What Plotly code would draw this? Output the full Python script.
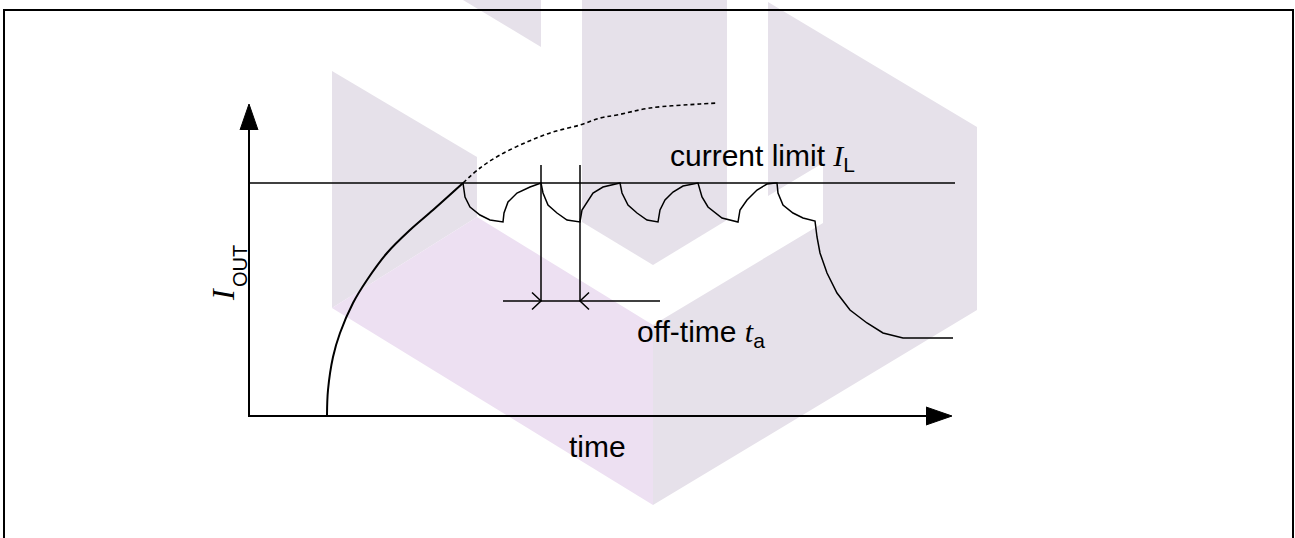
import plotly.graph_objects as go

# diagram units: t = time, I = output current (1 unit = 1 px, origin at the axes corner)
I_LIMIT = 233
T_LIMIT_END = 706
T_AXIS_END = 703
I_AXIS_END = 312

# ideal (unlimited) current rise
IDEAL_T = [78, 79, 84, 91, 104, 118, 138, 161, 184, 214, 231, 251, 278, 304, 331, 351, 368, 401, 451, 469]
IDEAL_I = [1, 26, 59, 83, 113, 136, 163, 186, 206, 233, 248, 261, 274, 284, 291, 298, 301, 308, 312, 313]
CROSS_IDX = 9

# limited output current
OUT_T = [214, 216, 221, 231, 241, 254, 255, 259, 268, 281, 292,
         294, 299, 308, 318, 331, 333, 338, 344, 354, 369,
         371, 373, 379, 388, 398, 409, 411, 416, 424, 434, 449,
         453, 459, 473, 481, 489, 491, 498, 508, 518, 526,
         528, 529, 534, 544, 554, 566, 568, 571, 578, 588, 601, 618, 634, 654, 704]
OUT_I = [233, 219, 209, 201, 196, 194, 203, 214, 223, 229, 233,
         223, 211, 203, 196, 194, 206, 214, 223, 229, 233,
         233, 223, 211, 203, 196, 194, 206, 216, 224, 230, 233,
         219, 209, 198, 196, 194, 206, 216, 226, 232, 233,
         233, 223, 211, 203, 198, 195, 179, 163, 143, 123, 106, 93, 83, 78, 78]

# off-time dimension
OFF_START, OFF_END = 292, 331
MARK_TOP, MARK_LEVEL = 251, 115
DIM_T = [254, 411]

# background watermark polygons
WM_GRAY = [
    ([83, 228, 228, 83], [345, 259, 199, 108]),
    ([214, 292, 292], [416, 416, 369]),
    ([333, 478, 478, 404, 333], [416, 416, 196, 151, 194]),
    ([519, 728, 728, 404, 404, 574, 574, 519], [414, 289, 106, -89, 91, 193, 253, 220]),
]
WM_PINK = [
    ([83, 228, 404, 404], [108, 199, 91, -89]),
]
GRAY = '#e6e1ea'
PINK = '#ede0f2'

HEAD_LEN, HEAD_HALF = 26, 9
TICK_LEN, TICK_HALF = 9, 8.5

fig = go.Figure()

for polys, col in ((WM_GRAY, GRAY), (WM_PINK, PINK)):
    for xs, ys in polys:
        fig.add_trace(go.Scatter(x=xs, y=ys, fill='toself', fillcolor=col,
                                 mode='none', hoverinfo='skip'))

line = dict(color='black', width=1.5)

# axes
fig.add_trace(go.Scatter(x=[0, 0, T_AXIS_END - HEAD_LEN], y=[I_AXIS_END - HEAD_LEN, 0, 0],
                         mode='lines', line=dict(color='black', width=2)))
fig.add_trace(go.Scatter(x=[-HEAD_HALF, 0, HEAD_HALF], y=[I_AXIS_END - HEAD_LEN, I_AXIS_END, I_AXIS_END - HEAD_LEN],
                         fill='toself', fillcolor='black', mode='lines', line=dict(color='black', width=1)))
fig.add_trace(go.Scatter(x=[T_AXIS_END - HEAD_LEN, T_AXIS_END, T_AXIS_END - HEAD_LEN], y=[-HEAD_HALF, 0, HEAD_HALF],
                         fill='toself', fillcolor='black', mode='lines', line=dict(color='black', width=1)))

# current limit
fig.add_trace(go.Scatter(x=[0, T_LIMIT_END], y=[I_LIMIT, I_LIMIT], mode='lines', line=line))

# ideal curve
fig.add_trace(go.Scatter(x=IDEAL_T[:CROSS_IDX + 1], y=IDEAL_I[:CROSS_IDX + 1], mode='lines',
                         line=dict(color='black', width=2, shape='spline')))
fig.add_trace(go.Scatter(x=IDEAL_T[CROSS_IDX:], y=IDEAL_I[CROSS_IDX:], mode='lines',
                         line=dict(color='black', width=1.6, dash='4px,3px', shape='spline')))

# limited waveform
fig.add_trace(go.Scatter(x=OUT_T, y=OUT_I, mode='lines', line=line))

# off-time markers
for t in (OFF_START, OFF_END):
    fig.add_trace(go.Scatter(x=[t, t], y=[MARK_TOP, MARK_LEVEL], mode='lines', line=line))
fig.add_trace(go.Scatter(x=DIM_T, y=[MARK_LEVEL, MARK_LEVEL], mode='lines', line=line))
for t, d in ((OFF_START, -1), (OFF_END, 1)):
    fig.add_trace(go.Scatter(x=[t + d * TICK_LEN, t, t + d * TICK_LEN],
                             y=[MARK_LEVEL + TICK_HALF, MARK_LEVEL, MARK_LEVEL - TICK_HALF],
                             mode='lines', line=line))

SANS = 'Arial, Liberation Sans, sans-serif'
SERIF = 'Liberation Serif'
font = dict(family=SANS, size=30, color='black')

fig.add_annotation(x=419, y=259, xanchor='left', yanchor='middle', showarrow=False, font=font,
                   text=f'current limit <span style="font-family:{SERIF}"><i>I</i></span><sub>L</sub>')
fig.add_annotation(x=386, y=83, xanchor='left', yanchor='middle', showarrow=False, font=font,
                   text=f'off-time <span style="font-family:{SERIF}"><i>t</i></span><sub>a</sub>')
fig.add_annotation(x=348, y=-30, xanchor='center', yanchor='middle', showarrow=False, font=font,
                   text='time')
# y-axis label I_OUT, rotated
fig.add_annotation(x=-26, y=121, xanchor='center', yanchor='middle', showarrow=False,
                   font=dict(family=SERIF, size=32, color='black'), textangle=-90, text='<i>I</i>')
fig.add_annotation(x=-9, y=150, xanchor='center', yanchor='middle', showarrow=False,
                   font=dict(family=SANS, size=20, color='black'), textangle=-90, text='OUT')

# frame
fig.add_shape(type='rect', x0=-245, x1=1044, y0=-140, y1=406, line=dict(color='black', width=2))

fig.update_xaxes(range=[-249, 1046], visible=False)
fig.update_yaxes(range=[-122, 416], visible=False)
fig.update_layout(width=1295, height=538, margin=dict(l=0, r=0, t=0, b=0),
                  showlegend=False, plot_bgcolor='white', paper_bgcolor='white')

fig.write_html('out.html', config={'displayModeBar': False},
               post_script="document.body.style.margin='0';")
